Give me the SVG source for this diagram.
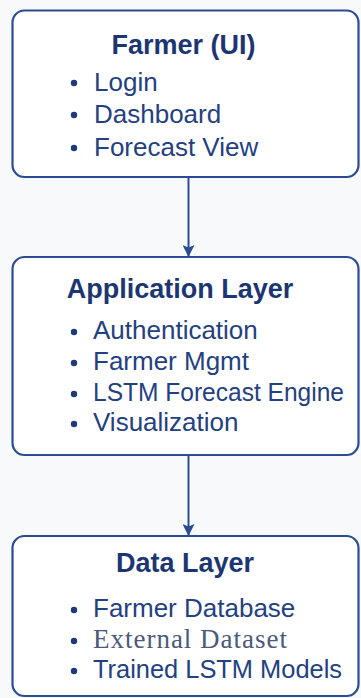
<svg xmlns="http://www.w3.org/2000/svg" width="361" height="698" viewBox="0 0 361 698">
  <defs>
    <style>
      .box { fill: #ffffff; stroke: #2b4c93; stroke-width: 2.2; }
      .title { font-family: "Liberation Sans", Arial, sans-serif; font-weight: bold; font-size: 27px; fill: #1c3672; text-anchor: middle; }
      .item { font-family: "Liberation Sans", Arial, sans-serif; font-size: 26px; fill: #24417f; }
      .item-serif { font-family: "Liberation Serif", "Times New Roman", serif; font-size: 27px; fill: #4b5a7c; }
      .dot { fill: #1f3a78; }
      .link { stroke: #2b4c93; stroke-width: 2; fill: none; }
    </style>
    <marker id="arrow" viewBox="0 0 12 12" refX="11" refY="6" markerWidth="12" markerHeight="12" markerUnits="userSpaceOnUse" orient="auto">
      <path d="M0,0 L12,6 L0,12 L2.5,6 Z" fill="#2b4c93"/>
    </marker>
  </defs>

  <rect width="361" height="698" fill="#f8f9fb"/>

  <!-- connectors -->
  <g id="connectors">
    <line class="link" x1="188.5" y1="177" x2="188.5" y2="256" marker-end="url(#arrow)"/>
    <line class="link" x1="188.5" y1="455" x2="188.5" y2="535" marker-end="url(#arrow)"/>
  </g>

  <!-- UI layer -->
  <g id="farmer-ui">
    <rect class="box" x="12.5" y="10.5" width="346" height="166.5" rx="12"/>
    <text class="title" x="183.5" y="54">Farmer (UI)</text>
    <circle class="dot" cx="74" cy="83" r="3.2"/>
    <text class="item" x="94" y="91">Login</text>
    <circle class="dot" cx="74" cy="115" r="3.2"/>
    <text class="item" x="94" y="123">Dashboard</text>
    <circle class="dot" cx="74" cy="148" r="3.2"/>
    <text class="item" x="94" y="156">Forecast View</text>
  </g>

  <!-- application layer -->
  <g id="application-layer">
    <rect class="box" x="12.5" y="257" width="346" height="198" rx="12"/>
    <text class="title" x="180" y="298">Application Layer</text>
    <circle class="dot" cx="74" cy="332" r="3.2"/>
    <text class="item" x="93" y="339">Authentication</text>
    <circle class="dot" cx="74" cy="363" r="3.2"/>
    <text class="item" x="93" y="370">Farmer Mgmt</text>
    <circle class="dot" cx="74" cy="394" r="3.2"/>
    <text class="item" x="93" y="401" textLength="251" lengthAdjust="spacingAndGlyphs">LSTM Forecast Engine</text>
    <circle class="dot" cx="74" cy="424" r="3.2"/>
    <text class="item" x="93" y="431">Visualization</text>
  </g>

  <!-- data layer -->
  <g id="data-layer">
    <rect class="box" x="12.5" y="536" width="346" height="160" rx="12"/>
    <text class="title" x="185" y="572">Data Layer</text>
    <circle class="dot" cx="74" cy="610" r="3.2"/>
    <text class="item" x="93" y="617">Farmer Database</text>
    <circle class="dot" cx="74" cy="641" r="3.2"/>
    <text class="item-serif" x="93" y="648" textLength="194" lengthAdjust="spacing">External Dataset</text>
    <circle class="dot" cx="74" cy="671" r="3.2"/>
    <text class="item" x="93" y="678" textLength="249" lengthAdjust="spacingAndGlyphs">Trained LSTM Models</text>
  </g>
</svg>
